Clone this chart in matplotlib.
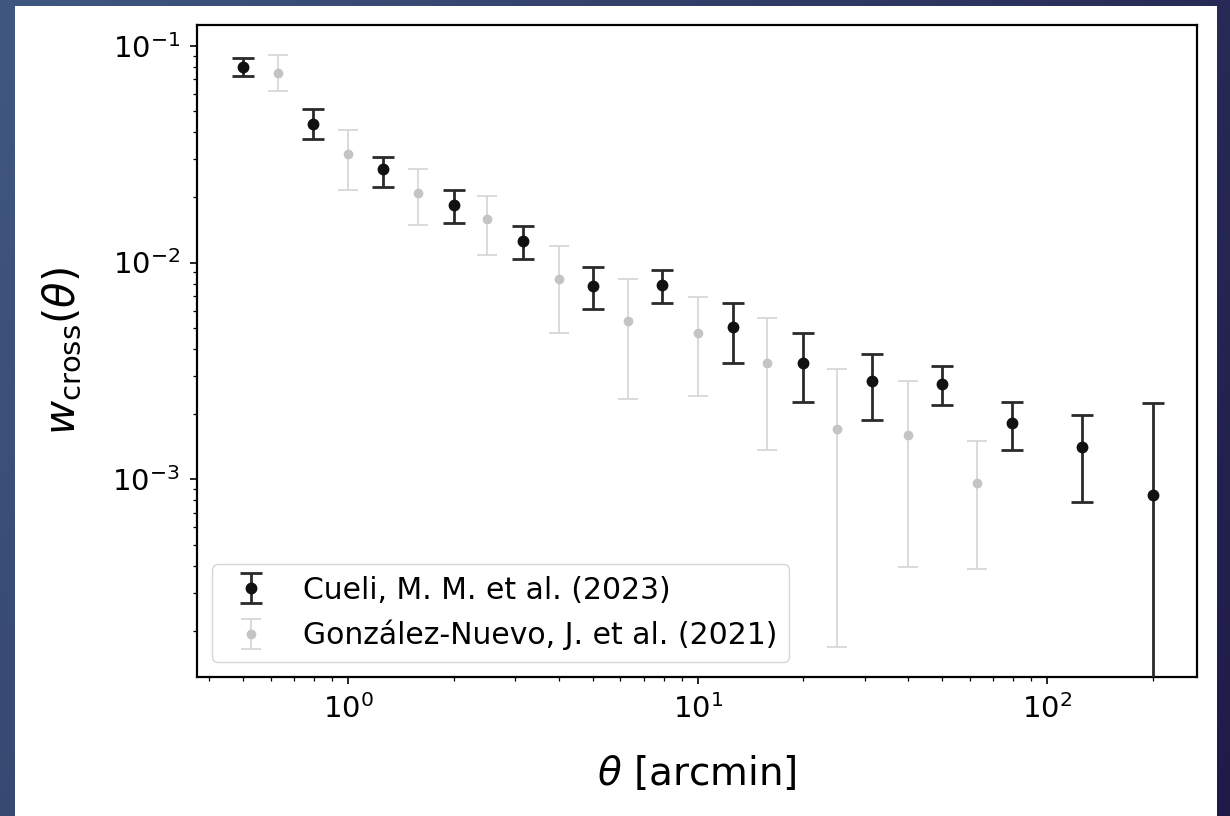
import numpy as np
import matplotlib
matplotlib.use("Agg")
import matplotlib.pyplot as plt
from matplotlib.patches import Rectangle

# angular bins (arcmin) and cross-correlation measurements
theta_cueli = [0.5, 0.79, 1.26, 2.0, 3.16, 5.0, 7.9, 12.6, 20.0, 31.6, 50.0, 79.0, 126.0, 200.0]
w_cueli = [0.0800, 0.0435, 0.0270, 0.0184, 0.0126, 0.00782, 0.00785, 0.00502,
           0.00343, 0.00283, 0.00274, 0.00181, 0.00141, 0.000846]
w_cueli_hi = [0.0880, 0.0512, 0.0308, 0.0217, 0.01478, 0.0095, 0.0092, 0.0065,
              0.00471, 0.00378, 0.00332, 0.00227, 0.00199, 0.00226]
w_cueli_lo = [0.0725, 0.0371, 0.0223, 0.0152, 0.01041, 0.00608, 0.00648, 0.00343,
              0.00227, 0.00188, 0.00219, 0.00136, 0.00079, 0.0]

theta_gn = [0.63, 1.0, 1.58, 2.5, 4.0, 6.3, 10.0, 15.8, 25.0, 40.0, 63.0]
w_gn = [0.0751, 0.0318, 0.0210, 0.01583, 0.00837, 0.00537, 0.00471, 0.00343,
        0.00171, 0.00160, 0.000962]
w_gn_hi = [0.0906, 0.0410, 0.0270, 0.0203, 0.0119, 0.00837, 0.00691, 0.00553,
           0.00322, 0.00284, 0.00150]
w_gn_lo = [0.0620, 0.0217, 0.01484, 0.0108, 0.00471, 0.00234, 0.00242, 0.00137,
           0.000168, 0.000395, 0.000385]

labels = ["Cueli, M. M. et al. (2023)", "González-Nuevo, J. et al. (2021)"]

w_cueli = np.array(w_cueli)
err_cueli = [w_cueli - np.array(w_cueli_lo), np.array(w_cueli_hi) - w_cueli]
w_gn = np.array(w_gn)
err_gn = [w_gn - np.array(w_gn_lo), np.array(w_gn_hi) - w_gn]

fig = plt.figure(figsize=(12.3, 8.16), dpi=100)

# slide-style backdrop: dark blue gradient with a white panel
bg = fig.add_axes([0, 0, 1, 1], zorder=-10)
gx = np.linspace(0, 1, 256)
gy = np.linspace(0, 1, 64)
gxx, gyy = np.meshgrid(gx, gy)
t = np.clip(0.75 * gxx + 0.25 * gyy, 0, 1)
c0 = np.array([0x40, 0x58, 0x80]) / 255
c1 = np.array([0x1f, 0x1b, 0x48]) / 255
img = c0[None, None, :] * (1 - t[..., None]) + c1[None, None, :] * t[..., None]
bg.imshow(img, extent=[0, 1, 0, 1], aspect="auto", origin="upper")
bg.add_patch(Rectangle((15 / 1230, 0), (1217 - 15) / 1230, (816 - 6) / 816,
                       facecolor="white", edgecolor="none"))
bg.set_xlim(0, 1)
bg.set_ylim(0, 1)
bg.axis("off")

ax = fig.add_axes([197 / 1230, 1 - 677 / 816, 1000 / 1230, 652 / 816])

ax.errorbar(theta_cueli, w_cueli, yerr=err_cueli, fmt="o", color="#111111",
            ecolor="#2a2a2a", markersize=7.5, elinewidth=2.0, capsize=8,
            capthick=2.0, label=labels[0], zorder=3)
ax.errorbar(theta_gn, w_gn, yerr=err_gn, fmt="o", color="#c4c4c4",
            ecolor="#d4d4d4", markersize=6, elinewidth=1.2, capsize=7,
            capthick=1.2, label=labels[1], zorder=2)

ax.set_xscale("log")
ax.set_yscale("log")
ax.set_xlim(0.369, 268)
ax.set_ylim(1.225e-4, 0.1246)

ax.set_xlabel(r"$\theta$ [arcmin]", fontsize=28, labelpad=22)
ax.set_ylabel(r"$w_{\rm cross}(\theta)$", fontsize=30, labelpad=20)

for s in ax.spines.values():
    s.set_linewidth(1.6)
ax.tick_params(which="major", length=5.2, width=1.2, labelsize=21, pad=7)
ax.tick_params(which="minor", length=3, width=0.9)

ax.legend(loc="lower left", fontsize=21.5, handlelength=1.85, handletextpad=0.8,
          borderaxespad=0.5, framealpha=0.8, edgecolor="#cccccc")

fig.savefig("out.png", dpi=100)
